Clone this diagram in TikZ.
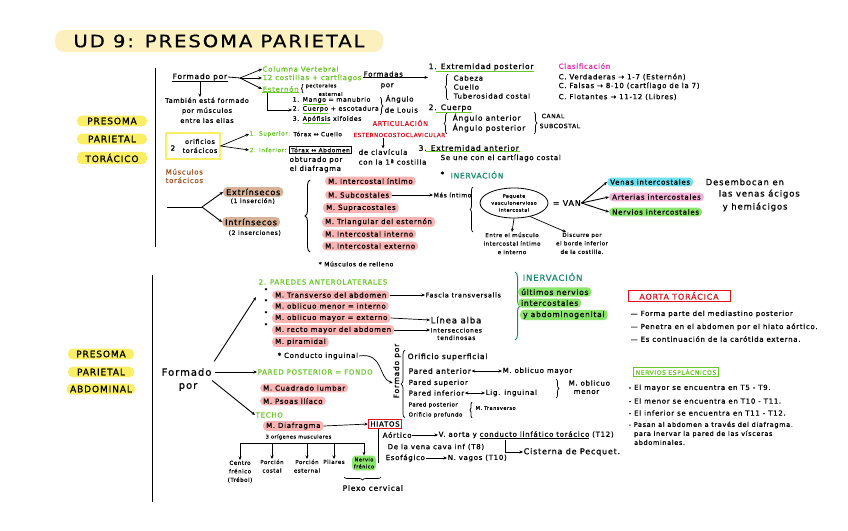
\documentclass[tikz,border=0pt]{standalone}
\usepackage{fontspec}
\setmainfont{DejaVu Sans}[LetterSpace=10, FakeBold=0.8]
\usepackage{graphicx}
\usetikzlibrary{arrows.meta, positioning, calc, shapes.geometric, decorations.pathreplacing}

\definecolor{lime}{RGB}{105,200,40}
\definecolor{tealc}{RGB}{20,140,110}
\definecolor{brownc}{RGB}{165,85,35}
\definecolor{pinkhl}{RGB}{250,180,180}
\definecolor{brownhl}{RGB}{215,178,152}
\definecolor{yellowhl}{RGB}{250,238,100}
\definecolor{titlehl}{RGB}{252,240,190}
\definecolor{cyanhl}{RGB}{110,225,240}
\definecolor{magentahl}{RGB}{245,178,215}
\definecolor{greenhl}{RGB}{140,230,110}
\definecolor{redc}{RGB}{225,20,30}
\definecolor{magc}{RGB}{235,40,170}

\newcommand\fsz[1]{\fontsize{#1}{#1}\selectfont}
\newcommand\gu[1]{\textcolor{lime}{\underline{\textcolor{black}{#1}}}}

\begin{document}
\begin{tikzpicture}[x=1pt, y=-1pt, >={Stealth[length=3.5pt, width=3pt]},
  font=\fsz{7},
  t/.style={anchor=west, inner sep=0.5pt},
  hl/.style={t, fill=#1, rounded corners=4pt, inner xsep=3pt, inner ysep=1.6pt},
  grn/.style={t, text=lime},
  box/.style={draw=#1, line width=0.9pt, inner sep=2pt},
  arr/.style={->, line width=0.7pt},
  brc/.style={decorate, decoration={brace, amplitude=3pt}, line width=0.7pt},
  ul/.style={line width=1.2pt, lime}]
  \fill[white] (0,0) rectangle (848,530);
  \useasboundingbox (0,0) rectangle (848,530);

  % Title
  \node[fill=titlehl, rounded corners=9pt, minimum width=328pt, minimum height=22pt]
    (title) at (219,41) {\fsz{17}\scalebox{1.15}[1]{UD 9: PRESOMA PARIETAL}};

  % Side labels
  \foreach \lbl/\yy [count=\i] in {PRESOMA/121, PARIETAL/139, TORÁCICO/158}
    \node[fill=yellowhl, rounded corners=5pt, font=\fsz{9}, minimum width=70pt, inner ysep=2pt]
      (tor\i) at (112,\yy) {\lbl};
  \foreach \lbl/\yy [count=\i] in {PRESOMA/354, PARIETAL/372, ABDOMINAL/389}
    \node[fill=yellowhl, rounded corners=5pt, font=\fsz{9}, minimum width=66pt, inner ysep=2pt]
      (abd\i) at (101,\yy) {\lbl};
  \draw[line width=1pt] (155,68) -- (155,247);
  \draw[line width=1pt] (152,275) -- (152,502);

  % Huesos del torax
  \node[t, font=\fsz{7.5}] (formado) at (172,77) {Formado por};
  \draw[line width=0.7pt] (formado.south west) -- (formado.south east);
  \coordinate (f1) at (240,78);
  \draw[line width=0.8pt] (formado.east) -- (f1);
  \node[grn] (colv) at (262,69) {Columna Vertebral};
  \node[grn] (cost) at (262,78) {12 costillas + cartílagos};
  \node[grn] (ester) at (262,89) {Esternón};
  \foreach \n in {colv, cost, ester}
    \draw[arr] (f1) -- (\n.west);
  \draw[line width=0.6pt, lime] (ester.south west) -- (ester.south east);
  \draw[brc, decoration={amplitude=1.5pt}] (303,93) -- (303,84);
  \node[t, font=\fsz{5}] (pect) at (305,86) {pectorales};
  \node[t, font=\fsz{5}] (estn) at (318,94) {esternal};
  \node[t, font=\fsz{6.2}] (mango) at (292,101) {1. \gu{Mango} = manubrio};
  \node[t, font=\fsz{6.2}] (cuerpoE) at (292,110) {2. \gu{Cuerpo} + escotadura};
  \node[t, font=\fsz{6.2}] (xif) at (292,120) {3. \gu{Apófisis} xifoides};
  \draw[arr] ([xshift=5pt]ester.south west) |- (cuerpoE.west);
  \draw[brc] (380,97) -- (380,115);
  \node[t] (ang) at (385,99) {Ángulo};
  \node[t] (louis) at (384,110) {de Louis};

  \node[t] (formadas) at (363,74) {Formadas};
  \node[t] (porF) at (380,86) {por};
  \node[t, font=\fsz{7.5}] (extpost) at (428,67) {1. Extremidad posterior};
  \draw[arr] (formadas.south west) -- (formadas.south west -| extpost.west);
  \draw[ul] ([xshift=8pt]extpost.south west) -- (extpost.south east);
  \draw[brc] (448,100) -- (448,74);
  \node[t] (cabeza) at (453,78) {Cabeza};
  \node[t] (cuello) at (453,87) {Cuello};
  \node[t] (tuber) at (453,96) {Tuberosidad costal};
  \node[t, font=\fsz{7.5}] (cuerpoC) at (428,108) {2. Cuerpo};
  \draw[ul] ([xshift=8pt]cuerpoC.south west) -- (cuerpoC.south east);
  \draw[brc] (447,134) -- (447,113);
  \node[t, font=\fsz{7.5}] (angant) at (452,118) {Ángulo anterior};
  \node[t, font=\fsz{7.5}] (angpost) at (452,128) {Ángulo posterior};
  \draw[brc] (534,112) -- (534,134);
  \node[t, font=\fsz{6}] (canal) at (541,116) {CANAL};
  \node[t, font=\fsz{6}] (subc) at (539,126) {SUBCOSTAL};
  \node[t, font=\fsz{7.5}] (extant) at (418,148) {3. Extremidad anterior};
  \draw[ul] ([xshift=8pt]extant.south west) -- (extant.south east);
  \node[t] (unec) at (440,158) {Se une con el cartílago costal};

  % Clasificacion
  \node[t, text=magc] (clasif) at (558,66) {Clasificación};
  \node[t] (cverd) at (558,77) {C. Verdaderas → 1-7 (Esternón)};
  \node[t] (cfals) at (558,86) {C. Falsas → 8-10 (cartílago de la 7)};
  \node[t] (cflot) at (558,97) {C. Flotantes → 11-12 (Libres)};

  % Articulacion
  \node[t, text=redc, font=\fsz{6.5}] (artic) at (372,123) {ARTICULACIÓN};
  \node[t, text=redc, font=\fsz{5.5}] (estcc) at (353,135) {ESTERNOCOSTOCLAVICULAR};
  \node[t] (declav) at (358,152) {de clavícula};
  \node[t] (con1) at (358,162) {con la 1ª costilla};
  \draw[arr] (estcc.south -| declav.north) -- (declav.north);

  % Orificios toracicos
  \node[draw=yellowhl, line width=1.2pt, minimum width=54pt, minimum height=26pt] (orif) at (193,146) {};
  \node[t] (dos) at (170,148) {2};
  \node[align=center, inner sep=0pt, font=\fontsize{6.5}{9}\selectfont] (oriftxt) at (200,146) {orificios\\torácicos};
  \node[grn, font=\fsz{5.8}] (sup) at (249,134) {1. Superior:};
  \node[t, font=\fsz{5.8}, right=2pt of sup] (tcue) {Tórax ↔ Cuello};
  \node[grn, font=\fsz{5.8}] (inf) at (249,150) {2. Inferior:};
  \node[box=black, font=\fsz{5.8}, inner sep=1.5pt, right=2pt of inf] (tabd) {Tórax ↔ Abdomen};
  \draw[arr] (orif.east) -- (sup.west);
  \draw[arr] (orif.east) -- (inf.west);
  \node[t] (obt) at (289,160) {obturado por};
  \node[t] (eldiaf) at (289,169) {el diafragma};

  \node[align=center, inner sep=0.5pt, anchor=north, font=\fontsize{6.5}{10}\selectfont]
    (tamb) at (207,97) {También está formado\\por músculos\\entre las ellas};
  \draw[arr] (formado.south) -- (formado.south |- tamb.north);

  % Musculos toracicos
  \node[t, text=brownc, align=left, font=\fontsize{7}{8.5}\selectfont] (musc) at (165,176) {Músculos\\ torácicos};
  \coordinate (mfork) at (202,207);
  \draw[line width=0.9pt] (167,207) -- (mfork);
  \node[hl=brownhl, font=\fsz{8}] (extr) at (223,192) {Extrínsecos};
  \node[t, font=\fsz{6}] (extr2) at (230,201) {(1 inserción)};
  \node[hl=brownhl, font=\fsz{8}] (intr) at (222,222) {Intrínsecos};
  \node[t, font=\fsz{6}] (intr2) at (228,233) {(2 inserciones)};
  \draw[arr, line width=0.9pt] (mfork) -- (extr.west);
  \draw[arr, line width=0.9pt] (mfork) -- (intr.west);
  \draw[brc, decoration={amplitude=5pt}, line width=0.9pt] (310,252) -- (310,180);
  \node[hl=pinkhl] (mintim) at (325,181) {M. Intercostal íntimo};
  \node[hl=pinkhl] (msub) at (325,195) {M. Subcostales};
  \node[t, font=\fsz{6}] (masint) at (433,195) {Más íntimo};
  \draw[arr] (msub.east) -- (masint.west);
  \node[hl=pinkhl] (msupra) at (323,208) {M. Supracostales};
  \node[hl=pinkhl] (mtri) at (322,222) {M. Triangular del esternón};
  \node[hl=pinkhl] (minte) at (322,234) {M. Intercostal interno};
  \node[hl=pinkhl] (mexte) at (322,246) {M. Intercostal externo};
  \node[t, font=\fsz{6}] (relleno) at (318,264) {* Músculos de relleno};

  % Inervacion torax
  \node[t] (ast1) at (440,174) {*};
  \node[t, text=tealc, font=\fsz{7.5}] (inerv1) at (450,175) {INERVACIÓN};
  \draw[brc] (473,232) -- (473,187);
  \node[ellipse, draw, line width=0.8pt, minimum width=68pt, minimum height=30pt, inner sep=0pt,
    align=center, font=\fontsize{4.8}{7}\selectfont] (paq) at (514,203) {Paquete\\vasculonervioso\\intercostal};
  \node[t, font=\fsz{8}] (van) at (552,203) {= VAN};
  \node[hl=cyanhl] (venas) at (607,182) {Venas intercostales};
  \node[hl=magentahl] (arter) at (609,197) {Arterias intercostales};
  \node[hl=greenhl] (nerv) at (609,212) {Nervios intercostales};
  \foreach \n in {venas, arter, nerv}
    \draw[arr, line width=0.9pt] (van.east) -- (\n.west);
  \node[t, font=\fsz{8.5}] (desem1) at (705,182) {Desembocan en};
  \node[t, font=\fsz{8.5}] (desem2) at (718,194) {las venas ácigos};
  \node[t, font=\fsz{8.5}] (desem3) at (722,207) {y hemiácigos};
  \node[align=center, inner sep=0.5pt, anchor=north, font=\fontsize{5.5}{8.5}\selectfont]
    (entre) at (512,232) {Entre el músculo\\intercostal íntimo\\e interno};
  \node[align=center, inner sep=0.5pt, anchor=north, font=\fontsize{5.5}{8.5}\selectfont]
    (discu) at (582,232) {Discurre por\\el borde inferior\\de la costilla.};
  \draw[arr] (paq.south) -- (entre.north);
  \draw[arr] (paq.-40) -- ([xshift=-16pt]discu.north);

  % Abdomen: formado por
  \node[t, font=\fsz{10}] (formA) at (161,372) {Formado};
  \node[t, font=\fsz{10}] (porA) at (178,387) {por};
  \coordinate (paredtip) at (256,297);
  \draw[arr, line width=0.9pt] ([xshift=2pt, yshift=6pt]formA.north east) -- (paredtip);
  \node[grn] (pposter) at (257,372) {PARED POSTERIOR = FONDO};
  \draw[arr, line width=0.9pt] ([xshift=3pt]formA.east) -- (pposter.west);
  \node[grn] (techo) at (255,415) {TECHO};
  \draw[arr, line width=0.9pt] ([yshift=-4pt]formA.south east) -- (techo.west);

  % Paredes anterolaterales
  \node[grn] (paredes) at (258,282) {2. PAREDES ANTEROLATERALES};
  \foreach \yy in {290, 301, 313, 325}
    \node[t, font=\fsz{5}] at (264,\yy) {*};
  \node[hl=pinkhl] (mtrans) at (272,295) {M. Transverso del abdomen};
  \node[t, font=\fsz{6.5}] (fascia) at (425,295) {Fascia transversalis};
  \draw[arr] (mtrans.east) -- (fascia.west);
  \node[hl=pinkhl] (mobmen) at (272,306) {M. oblicuo menor = interno};
  \node[hl=pinkhl] (mobmay) at (272,318) {M. oblicuo mayor = externo};
  \node[t, font=\fsz{8.5}] (alba) at (430,320) {Línea alba};
  \draw[arr] (mobmay.east) -- (alba.west);
  \node[hl=pinkhl] (mrecto) at (272,330) {M. recto mayor del abdomen};
  \node[t, align=center, font=\fontsize{6}{7.5}\selectfont] (inters) at (430,334) {Intersecciones\\tendinosas};
  \draw[arr] (mrecto.east) -- (mrecto.east -| inters.west);
  \node[hl=pinkhl] (mpiram) at (272,342) {M. piramidal};
  \draw[brc, tealc, decoration={amplitude=5pt}, line width=1pt] (515,272) -- (515,340);
  \node[t, text=tealc, font=\fsz{8.5}] (inerv2) at (522,277) {INERVACIÓN};
  \node[hl=greenhl, font=\fsz{7.5}] (ultn) at (518,292) {últimos nervios};
  \node[hl=greenhl, font=\fsz{7.5}] (icost) at (518,303) {intercostales};
  \node[hl=greenhl, font=\fsz{7.5}] (abdgen) at (520,315) {y abdominogenital};

  % Aorta toracica
  \node[box=redc, text=redc, font=\fsz{8}, minimum width=102pt] (aorta) at (679,296) {AORTA TORÁCICA};
  \node[t] (ao1) at (630,314) {— Forma parte del mediastino posterior};
  \node[t] (ao2) at (630,327) {— Penetra en el abdomen por el hiato aórtico.};
  \node[t] (ao3) at (630,339) {— Es continuación de la carótida externa.};

  % Conducto inguinal
  \node[t] (conduc) at (277,356) {* Conducto inguinal};
  \node[rotate=90, inner sep=0.5pt, font=\fsz{7.5}] (formP) at (397,371) {Formado por};
  \draw[arr] (conduc.east) .. controls (384,352) and (378,378) .. ([yshift=-12pt]formP.north);
  \draw[brc, decoration={amplitude=4pt}] (405,418) -- (405,350);
  \node[t, font=\fsz{7.5}] (osup) at (407,357) {Orificio superficial};
  \node[t, font=\fsz{7.5}] (pant) at (408,371) {Pared anterior};
  \node[t] (mobm2) at (502,371) {M. oblicuo mayor};
  \draw[<->, line width=0.7pt] (pant.east) -- (mobm2.west);
  \node[t] (psup) at (408,383) {Pared superior};
  \node[t] (pinf) at (408,393) {Pared inferior};
  \node[t] (ligi) at (485,393) {Lig. inguinal};
  \draw[<->, line width=0.7pt] (pinf.east) -- (ligi.west);
  \draw[brc] (556,379) -- (556,398);
  \node[t] (mobmen2) at (568,383) {M. oblicuo};
  \node[t] (menor2) at (573,392) {menor};
  \node[t, font=\fsz{5.5}] (ppost) at (408,405) {Pared posterior};
  \node[t, font=\fsz{5.5}] (oprof) at (408,415) {Orificio profundo};
  \draw[brc, decoration={amplitude=2pt}] (472,418) -- (472,402);
  \node[t, font=\fsz{5}] (mtransv2) at (475,408) {M. Transverso};

  % Pared posterior y techo
  \node[hl=pinkhl] (mcuad) at (260,388) {M. Cuadrado lumbar};
  \node[hl=pinkhl] (mpsoas) at (260,401) {M. Psoas ilíaco};
  \node[hl=pinkhl] (mdiaf) at (263,426) {M. Diafragma};
  \node[box=redc, font=\fsz{7}] (hiatos) at (385,424) {HIATOS};
  \draw[arr] (mdiaf.east) -- (hiatos.west);
  \node[t, font=\fsz{5}] (origen) at (265,437) {3 orígenes musculares};
  \coordinate (bar) at (0,443);
  \node[align=center, inner sep=0.5pt, anchor=north, font=\fontsize{5.5}{8.5}\selectfont] (centro) at (240,460) {Centro\\frénico\\(Trébol)};
  \node[align=center, inner sep=0.5pt, anchor=north, font=\fontsize{5.5}{8.5}\selectfont] (pcostal) at (272,459) {Porción\\costal};
  \node[align=center, inner sep=0.5pt, anchor=north, font=\fontsize{5.5}{8.5}\selectfont] (pestern) at (307,459) {Porción\\esternal};
  \node[align=center, inner sep=0.5pt, anchor=north, font=\fontsize{5.5}{8.5}\selectfont] (pilares) at (334,459) {Pilares};
  \node[fill=greenhl, rounded corners=4pt, align=center, inner sep=2pt, font=\fontsize{5}{7}\selectfont] (nfren) at (364,463) {Nervio\\frénico};
  \draw[line width=0.8pt] (centro.north |- bar) -- (nfren.north |- bar);
  \foreach \n in {centro, pcostal, pestern, pilares, nfren}
    \draw[arr] (\n.north |- bar) -- (\n.north);
  \draw[brc] (381,477) -- (344,477);
  \node[t, font=\fsz{7.5}] (plexo) at (342,488) {Plexo cervical};
  \draw[line width=0.7pt] ([xshift=-7pt]hiatos.south) -- ([xshift=-7pt]hiatos.south |- nfren.center);

  % Hiatos
  \node[t] (aortico) at (382,435) {Aórtico};
  \node[t] (vaorta) at (438,435) {V. aorta y \underline{conducto linfático torácico} (T12)};
  \draw[arr] (aortico.east) -- (vaorta.west);
  \node[t] (cava) at (387,447) {De la vena cava inf (T8)};
  \node[t] (esof) at (385,458) {Esofágico};
  \node[t] (vagos) at (447,458) {N. vagos (T10)};
  \draw[arr] (esof.east) -- (vagos.west);
  \node[t, font=\fsz{8}] (cisterna) at (523,452) {Cisterna de Pecquet.};
  \draw[arr] ([xshift=67pt]vaorta.south west) |- (cisterna.west);

  % Nervios esplacnicos
  \node[box=lime, text=lime, font=\fsz{6}] (esplac) at (676,372) {NERVIOS ESPLÁCNICOS};
  \node[t] (esp1) at (628,388) {- El mayor se encuentra en T5 - T9.};
  \node[t] (esp2) at (628,401) {- El menor se encuentra en T10 - T11.};
  \node[t] (esp3) at (628,413) {- El inferior se encuentra en T11 - T12.};
  \node[t, anchor=north west, align=left, font=\fontsize{6.5}{9}\selectfont] (esp4) at (628,421)
    {- Pasan al abdomen a través del diafragma.\\\ \ para inervar la pared de las vísceras\\\ \ abdominales.};
\end{tikzpicture}
\end{document}
